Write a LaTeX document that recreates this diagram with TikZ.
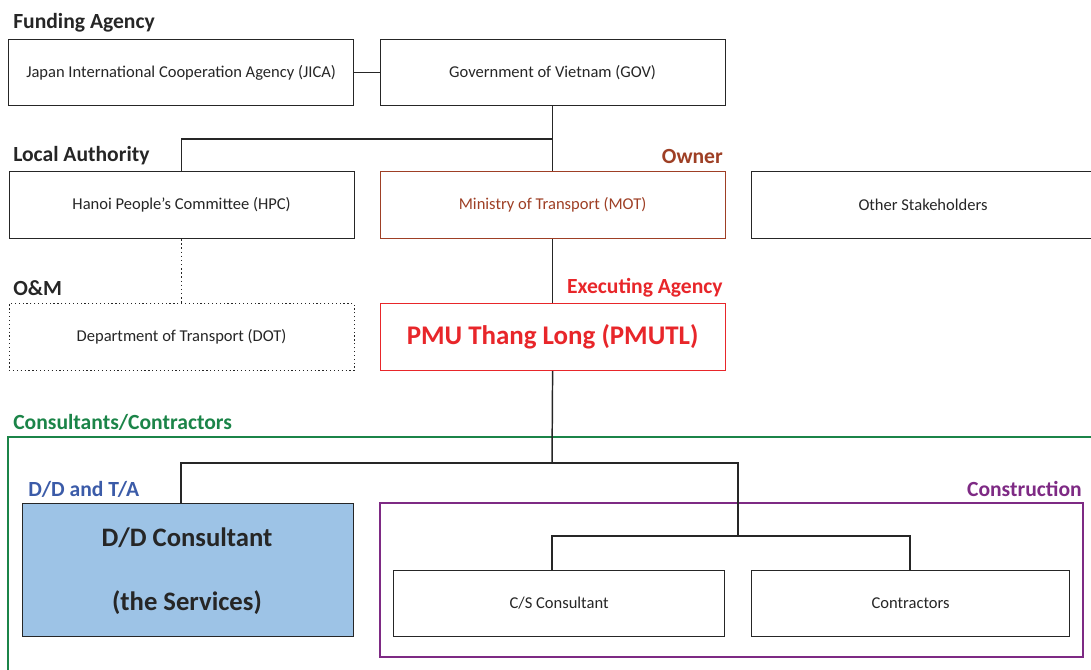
\documentclass[tikz,border=0pt]{standalone}
\usepackage{fontspec}
\setmainfont{Carlito}
\definecolor{ownerc}{HTML}{9E3F25}
\definecolor{execc}{HTML}{E8262A}
\definecolor{consc}{HTML}{1B8448}
\definecolor{ddc}{HTML}{3B5BA8}
\definecolor{constrc}{HTML}{7E2A84}
\definecolor{ddfill}{HTML}{9DC3E6}
\definecolor{txt}{HTML}{262626}
\begin{document}
\begin{tikzpicture}[x=0.75pt,y=-0.75pt,
  box/.style={draw=txt, line width=0.9pt, fill=white, inner sep=0pt, anchor=north west,
     text=txt, font=\fontsize{12.4}{14}\selectfont},
  sz/.style 2 args={minimum width=#1*0.75pt, minimum height=#2*0.75pt},
  lbl/.style={font=\bfseries\fontsize{16.2}{18}\selectfont, inner sep=0pt, text=txt},
  big/.style={inner sep=0pt, text=txt, font=\bfseries\fontsize{20}{22}\selectfont},
  conn/.style={draw=txt, line width=1.1pt},
  grp/.style={line width=1pt}
]
\useasboundingbox (0,0) rectangle (1091,670);
\clip (0,0) rectangle (1091,670);

% group frames
\draw[grp, draw=consc] (8,437) rectangle (1100,680);
\draw[grp, draw=constrc] (380,503) rectangle (1083,657);

% labels
\node[lbl, anchor=west] (lfund) at (13,23) {Funding Agency};
\node[lbl, anchor=west] (lloc) at (13,156) {Local Authority};
\node[lbl, anchor=west] (lom) at (13,288) {O\&M};
\node[lbl, anchor=east, text=ownerc] (lown) at (723,156) {Owner};
\node[lbl, anchor=east, text=execc] (lexec) at (723,288) {Executing Agency};
\node[lbl, anchor=west, text=consc] (lcons) at (13,422) {Consultants/Contractors};
\node[lbl, anchor=west, text=ddc] (ldd) at (28,489) {D/D and T/A};
\node[lbl, anchor=east, text=constrc] (lconstr) at (1082,489) {Construction};

% boxes
\node[box, sz={345}{66}] (jica) at (8,39) {Japan International Cooperation Agency (JICA)};
\node[box, sz={345}{66}] (gov) at (379.5,39) {Government of Vietnam (GOV)};
\node[box, sz={345}{67}] (hpc) at (8.5,171) {Hanoi People's Committee (HPC)};
\node[box, sz={345}{67}, draw=ownerc, text=ownerc] (mot) at (379.5,171) {Ministry of Transport (MOT)};
\node[box, sz={345}{67}] (other) at (751,171) {};
\node[inner sep=0pt, text=txt, font=\fontsize{12.4}{14}\selectfont] (othert) at (923,205) {Other Stakeholders};
\node[box, sz={345}{67}, dotted] (dot) at (8.5,303) {Department of Transport (DOT)};
\node[box, sz={345}{67}, draw=execc, text=execc, font=\bfseries\fontsize{20.2}{23}\selectfont] (pmu) at (379.5,303) {PMU Thang Long (PMUTL)};
\node[box, sz={331}{133}, fill=ddfill, line width=1.1pt] (dd) at (22,503) {};
\node[big] (dd1) at (187,538) {D/D Consultant};
\node[big] (dd2) at (187,603) {(the Services)};
\node[box, sz={331}{66}] (cs) at (393,570) {C/S Consultant};
\node[box, sz={318}{66}] (ctr) at (751,570) {Contractors};

% junction coordinates
\coordinate (j1) at (552,139);
\coordinate (j2) at (552,463);
\coordinate (j3) at (738,463);
\coordinate (j4) at (738,536);
\coordinate (ddtop) at (181,503);
\coordinate (cstop) at (552,570);
\coordinate (ctrtop) at (910,570);

% connectors
\draw[conn] (jica.east) -- (gov.west);
\draw[conn] (gov.south) -- (mot.north);
\draw[conn] (hpc.north) |- (j1);
\draw[conn, dotted] (hpc.south) -- (dot.north);
\draw[conn] (mot.south) -- (pmu.north);
\draw[conn] (pmu.south) -- (j2);
\draw[conn] (ddtop) |- (j3) -- (j4);
\draw[conn] (cstop) |- (j4) -| (ctrtop);
\end{tikzpicture}
\end{document}
